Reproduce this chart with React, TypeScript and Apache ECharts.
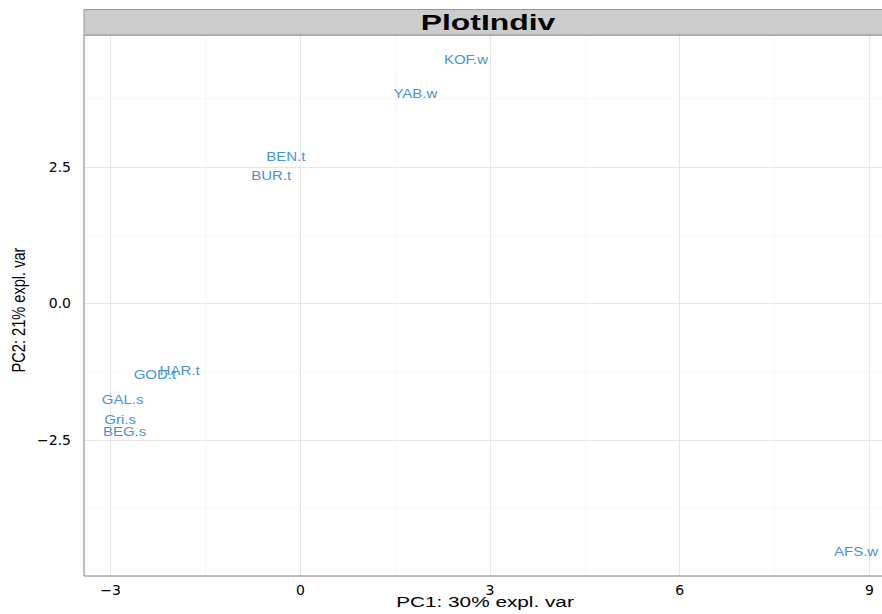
import React, { useEffect, useRef } from "react";
import * as echarts from "echarts";

const sampleNames = ["KOF.w", "YAB.w", "BEN.t", "BUR.t", "HAR.t", "GOD.t", "GAL.s", "Gri.s", "BEG.s", "AFS.w"];
const pc1Values = [2.62, 1.82, -0.23, -0.46, -1.91, -2.3, -2.81, -2.85, -2.78, 8.79];
const pc2Values = [4.46, 3.83, 2.67, 2.33, -1.24, -1.31, -1.77, -2.14, -2.36, -4.55];

const xTicks = [-3, 0, 3, 6, 9];
const xMinor = [-1.5, 1.5, 4.5, 7.5];
const yTicks = [-2.5, 0, 2.5];
const yMinor = [-3.75, -1.25, 1.25, 3.75];

const titleText = "PlotIndiv";
const xTitle = "PC1: 30% expl. var";
const yTitle = "PC2: 21% expl. var";

const labelColor = "#4694d4";
const fontFam = "'Liberation Sans', Arial, sans-serif";

export default function App() {
  const ref = useRef<HTMLDivElement>(null);
  useEffect(() => {
    if (!ref.current) return;
    const chart = echarts.init(ref.current, undefined, { renderer: "svg" });
    const minus = (s: string) => s.replace("-", "\u2212");
    const gridLines = [
      ...xMinor.map((v) => ({ xAxis: v, lineStyle: { color: "#f7f7f7", width: 1, type: "solid" } })),
      ...yMinor.map((v) => ({ yAxis: v, lineStyle: { color: "#f7f7f7", width: 1, type: "solid" } })),
      ...xTicks.map((v) => ({ xAxis: v, lineStyle: { color: "#e6e6e6", width: 1, type: "solid" } })),
      ...yTicks.map((v) => ({ yAxis: v, lineStyle: { color: "#e6e6e6", width: 1, type: "solid" } })),
    ];
    const option: any = {
      animation: false,
      backgroundColor: "#ffffff",
      grid: { left: 84, right: 0, top: 35, bottom: 38, containLabel: false },
      xAxis: {
        type: "value",
        min: -3.422,
        max: 9.2,
        splitLine: { show: false },
        axisLine: { show: false },
        axisTick: { show: true, customValues: xTicks, length: 5, lineStyle: { color: "#333333", width: 1 } },
        axisLabel: {
          customValues: xTicks,
          formatter: (v: number) => minus(String(v)),
          color: "#000000",
          fontSize: 14,
          fontFamily: "'DejaVu Sans', sans-serif",
          margin: 7,
        },
      },
      yAxis: {
        type: "value",
        min: -4.995,
        max: 4.914,
        splitLine: { show: false },
        axisLine: { show: false },
        axisTick: { show: true, customValues: yTicks, length: 5, lineStyle: { color: "#333333", width: 1 } },
        axisLabel: {
          customValues: yTicks,
          formatter: (v: number) => minus(v.toFixed(1)),
          color: "#000000",
          fontSize: 14,
          fontFamily: "'DejaVu Sans', sans-serif",
          margin: 13,
        },
      },
      graphic: [
        {
          type: "rect",
          shape: { x: 84, y: 35, width: 820, height: 541 },
          style: { fill: "none", stroke: "#7f7f7f", lineWidth: 1 },
          z: 9,
          silent: true,
        },
        {
          type: "rect",
          shape: { x: 84, y: 9.5, width: 820, height: 25.5 },
          style: { fill: "#cccccc", stroke: "#9a9a9a", lineWidth: 1 },
          z: 10,
        },
        {
          type: "text",
          x: 488,
          y: 22.5,
          scaleX: 1.45,
          style: {
            text: titleText,
            font: `bold 22px ${fontFam}`,
            fill: "#000000",
            align: "center",
            verticalAlign: "middle",
          },
          z: 11,
        },
        {
          type: "text",
          x: 485,
          y: 602,
          scaleX: 1.34,
          style: {
            text: xTitle,
            font: `15.5px ${fontFam}`,
            fill: "#000000",
            align: "center",
            verticalAlign: "middle",
          },
        },
        {
          type: "text",
          x: 18,
          y: 310,
          rotation: Math.PI / 2,
          scaleY: 1.2,
          style: {
            text: yTitle,
            font: `14.6px ${fontFam}`,
            fill: "#000000",
            align: "center",
            verticalAlign: "middle",
          },
        },
      ],
      series: [
        {
          type: "scatter",
          data: [],
          silent: true,
          z: 1,
          markLine: {
            silent: true,
            symbol: "none",
            label: { show: false },
            animation: false,
            data: gridLines,
          },
        },
        {
          type: "custom",
          z: 5,
          clip: false,
          data: pc1Values.map((x, i) => [x, pc2Values[i]]),
          renderItem: (params: any, api: any) => {
            const pt = api.coord([api.value(0), api.value(1)]);
            return {
              type: "text",
              x: pt[0],
              y: pt[1],
              scaleX: 1.25,
              style: {
                text: sampleNames[params.dataIndex],
                fill: labelColor,
                font: `12px ${fontFam}`,
                align: "center",
                verticalAlign: "middle",
              },
            };
          },
        },
      ],
    };
    chart.setOption(option);
    return () => chart.dispose();
  }, []);
  return (
    <div
      ref={ref}
      style={{ position: "absolute", left: 0, top: 0, width: 882, height: 614, overflow: "hidden" }}
    />
  );
}
